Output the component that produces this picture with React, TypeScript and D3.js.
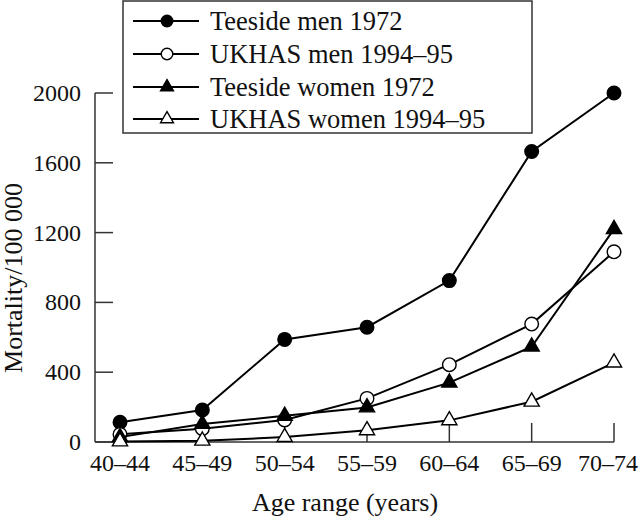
import React from "react";
import * as d3 from "d3";

const ageGroups = ["40–44", "45–49", "50–54", "55–59", "60–64", "65–69", "70–74"];
const teesideMen = [113, 183, 588, 658, 925, 1665, 2000];
const ukhasMen = [44, 76, 126, 250, 443, 676, 1090];
const teesideWomen = [28, 103, 150, 198, 340, 546, 1220];
const ukhasWomen = [3, 7, 28, 67, 124, 231, 455];
const yTicks = [0, 400, 800, 1200, 1600, 2000];
const seriesNames = ["Teeside men 1972", "UKHAS men 1994–95", "Teeside women 1972", "UKHAS women 1994–95"];

const W = 640;
const H = 523;
const FONT = "'Liberation Serif', 'Times New Roman', serif";

type Marker = "circleFilled" | "circleOpen" | "triFilled" | "triOpen";

const series: { name: string; values: number[]; marker: Marker }[] = [
  { name: seriesNames[0], values: teesideMen, marker: "circleFilled" },
  { name: seriesNames[1], values: ukhasMen, marker: "circleOpen" },
  { name: seriesNames[2], values: teesideWomen, marker: "triFilled" },
  { name: seriesNames[3], values: ukhasWomen, marker: "triOpen" },
];

function MarkerShape({ type, x, y, scale = 1 }: { type: Marker; x: number; y: number; scale?: number }) {
  const isCircle = type === "circleFilled" || type === "circleOpen";
  const filled = type === "circleFilled" || type === "triFilled";
  const path = isCircle
    ? d3.symbol().type(d3.symbolCircle).size(145 * scale * scale)()
    : d3.symbol().type(d3.symbolTriangle).size(100 * scale * scale)();
  return (
    <path
      d={path || ""}
      transform={`translate(${x},${y})`}
      fill={filled ? "#000" : "#fff"}
      stroke="#000"
      strokeWidth={1.4}
    />
  );
}

export default function App() {
  const x = d3.scalePoint<string>().domain(ageGroups).range([120, 614]).padding(0);
  const y = d3.scaleLinear().domain([0, 2000]).range([442, 93]);
  const axisLeft = 95;
  const axisY = y(0);
  const line = d3
    .line<number>()
    .x((_, i) => x(ageGroups[i]) as number)
    .y((d) => y(d));

  const legendRows = [21, 54, 87, 119];

  return (
    <svg width={W} height={H} style={{ position: "absolute", left: 0, top: 0, background: "#fff" }} fontFamily={FONT}>
      <rect x={0} y={0} width={W} height={H} fill="#fff" />
      {/* axes */}
      <g stroke="#333" strokeWidth={1.5} fill="none">
        <line x1={axisLeft} y1={y(2000)} x2={axisLeft} y2={axisY} />
        <line x1={axisLeft} y1={axisY} x2={x(ageGroups[ageGroups.length - 1]) as number} y2={axisY} />
        {yTicks.map((t) => (
          <line key={t} x1={axisLeft} x2={axisLeft + 18} y1={y(t)} y2={y(t)} />
        ))}
        {ageGroups.map((g) => (
          <line key={g} x1={x(g) as number} x2={x(g) as number} y1={axisY} y2={axisY - 19} />
        ))}
      </g>
      {/* y tick labels */}
      {yTicks.map((t) => (
        <text key={t} x={81} y={y(t) + 8} textAnchor="end" fontSize={24} fill="#111">
          {t}
        </text>
      ))}
      {/* x tick labels */}
      {ageGroups.map((g) => (
        <text key={g} x={Math.min(x(g) as number, 608)} y={471} textAnchor="middle" fontSize={24} fill="#111">
          {g}
        </text>
      ))}
      <text x={345} y={511} textAnchor="middle" fontSize={26} fill="#111">
        Age range (years)
      </text>
      <text transform={`translate(22,278) rotate(-90)`} textAnchor="middle" fontSize={26} fill="#111">
        Mortality/100 000
      </text>
      {/* series */}
      {series.map((s) => (
        <g key={s.name}>
          <path d={line(s.values) || ""} fill="none" stroke="#000" strokeWidth={2} />
          {s.values.map((v, i) => (
            <MarkerShape key={i} type={s.marker} x={x(ageGroups[i]) as number} y={y(v)} />
          ))}
        </g>
      ))}
      {/* legend */}
      <rect x={123} y={1} width={409} height={132} fill="#fff" stroke="#333" strokeWidth={1.5} />
      {series.map((s, i) => (
        <g key={s.name}>
          <line x1={133} x2={199} y1={legendRows[i]} y2={legendRows[i]} stroke="#000" strokeWidth={2} />
          <MarkerShape type={s.marker} x={167} y={legendRows[i]} scale={0.85} />
          <text x={210} y={legendRows[i] + 9} fontSize={26.5} fill="#111">
            {s.name}
          </text>
        </g>
      ))}
    </svg>
  );
}
